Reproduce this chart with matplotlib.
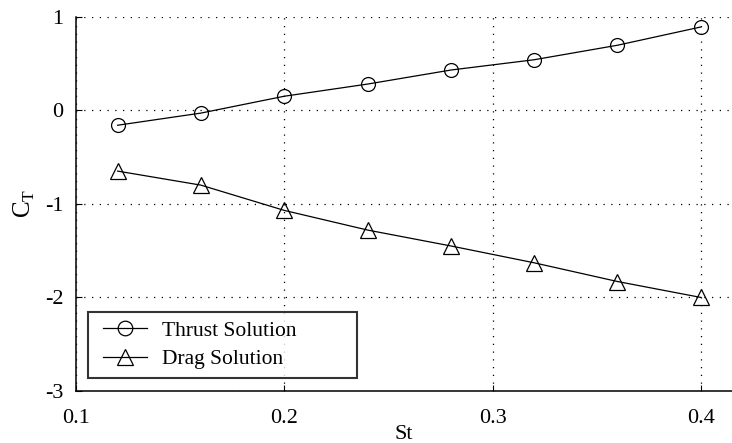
import matplotlib
matplotlib.use("Agg")
import matplotlib.pyplot as plt
from matplotlib.lines import Line2D
from matplotlib.legend_handler import HandlerLine2D

st = [0.12, 0.16, 0.20, 0.24, 0.28, 0.32, 0.36, 0.40]
thrust = [-0.16, -0.03, 0.15, 0.28, 0.43, 0.54, 0.695, 0.89]
drag = [-0.65, -0.80, -1.07, -1.28, -1.45, -1.63, -1.83, -2.00]
xticks = [0.1, 0.2, 0.3, 0.4]
xticklabels = ["0.1", "0.2", "0.3", "0.4"]
yticks = [-3, -2, -1, 0, 1]
yticklabels = ["-3", "-2", "-1", "0", "1"]

plt.rcParams['font.family'] = ['Liberation Serif', 'DejaVu Serif']
fig = plt.figure(figsize=(7.32, 4.43), dpi=100)
ax = fig.add_axes([0.1038, 0.1174, 0.8962, 0.8449])

ax.plot(st, thrust, color='black', lw=0.9, marker='o', ms=10, mfc='none', mec='black', mew=0.9, label='Thrust Solution')
ax.plot(st, drag, color='black', lw=0.9, marker='^', ms=11, mfc='none', mec='black', mew=0.9, label='Drag Solution')

ax.set_xlim(0.1, 0.415)
ax.set_ylim(-3, 1)
ax.set_xticks(xticks)
ax.set_xticklabels(xticklabels)
ax.set_yticks(yticks)
ax.set_yticklabels(yticklabels)
ax.tick_params(direction='in', length=4, width=0.8, labelsize=16, colors='black')
ax.tick_params(axis='x', pad=13)
ax.tick_params(axis='y', pad=9)
ax.grid(True, color='black', linestyle=(0, (1, 5.2)), linewidth=0.9)
for s in ['top', 'right']:
    ax.spines[s].set_visible(False)
for s in ['left', 'bottom']:
    ax.spines[s].set_linewidth(1.1)

ax.set_xlabel('St', fontsize=16, labelpad=-2.5)
ax.set_ylabel(r'C$_\mathregular{T}$', fontsize=18, labelpad=6)

leg = ax.legend(loc='lower left', bbox_to_anchor=(0.0183, 0.0347, 0.41, 0.176), mode='expand',
                borderaxespad=0, fontsize=15.5, frameon=True,
                fancybox=False, edgecolor='black', handlelength=2.33, handletextpad=0.7,
                borderpad=0.4, labelspacing=0.4, markerscale=1.05,
                handler_map={Line2D: HandlerLine2D(xpad=0.28)})
leg.get_frame().set_linewidth(1.5)

fig.savefig('out.png', dpi=100)
